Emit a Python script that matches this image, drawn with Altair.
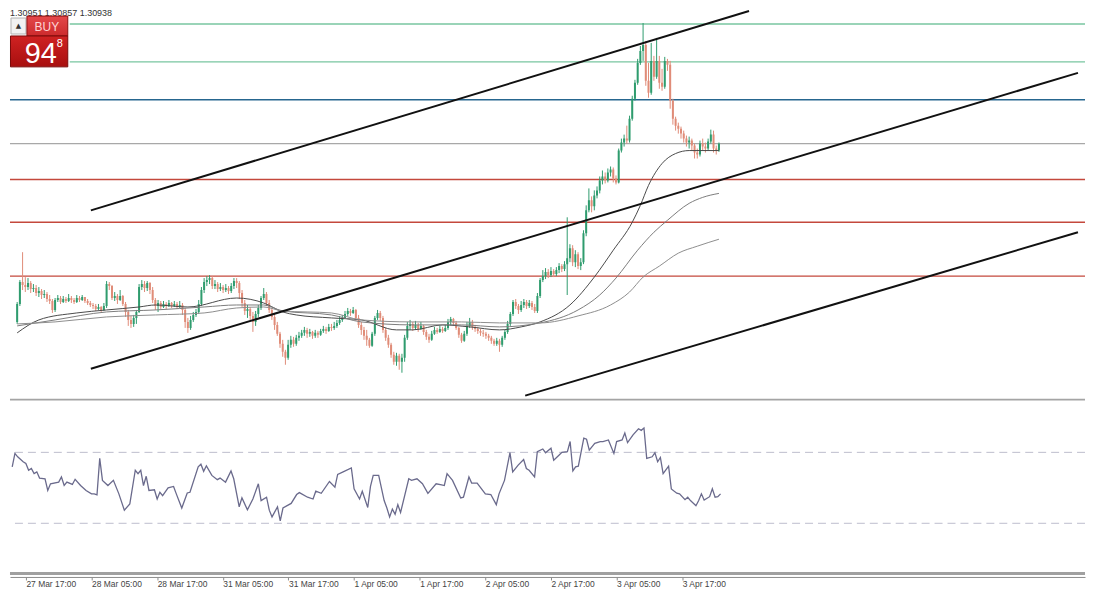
import json
import numpy as np
import pandas as pd
import altair as alt

# ---------------- data ----------------
tick_bars = [8, 32, 56, 80, 104, 128, 152, 176, 200, 224, 248]
tick_labels = ["27 Mar 17:00", "28 Mar 05:00", "28 Mar 17:00", "31 Mar 05:00",
               "31 Mar 17:00", "1 Apr 05:00", "1 Apr 17:00", "2 Apr 05:00",
               "2 Apr 17:00", "3 Apr 05:00", "3 Apr 17:00"]

first_open = 1.2939
close = [
    1.2932, 1.2922, 1.2915, 1.2933, 1.2955, 1.2952, 1.2950, 1.2954, 1.2948, 1.2949,
    1.2944, 1.2946, 1.2942, 1.2943, 1.2938, 1.2936, 1.2927, 1.2937, 1.2939, 1.2935,
    1.2938, 1.2936, 1.2939, 1.2937, 1.2935, 1.2939, 1.2937, 1.2940, 1.2936, 1.2934,
    1.2932, 1.2931, 1.2928, 1.2930, 1.2927, 1.2931, 1.2953, 1.2951, 1.2939, 1.2941,
    1.2937, 1.2941, 1.2933, 1.2925, 1.2917, 1.2913, 1.2919, 1.2925, 1.2950, 1.2953,
    1.2949, 1.2954, 1.2947, 1.2937, 1.2931, 1.2934, 1.2930, 1.2933, 1.2931, 1.2934,
    1.2931, 1.2933, 1.2930, 1.2932, 1.2927, 1.2915, 1.2909, 1.2917, 1.2922, 1.2925,
    1.2933, 1.2947, 1.2955, 1.2957, 1.2959, 1.2951, 1.2953, 1.2948, 1.2950, 1.2947,
    1.2949, 1.2946, 1.2951, 1.2956, 1.2954, 1.2944, 1.2934, 1.2926, 1.2928, 1.2921,
    1.2915, 1.2923, 1.2929, 1.2939, 1.2943, 1.2934, 1.2927, 1.2920, 1.2912, 1.2903,
    1.2893, 1.2885, 1.2879, 1.2892, 1.2897, 1.2893, 1.2899, 1.2901, 1.2904, 1.2907,
    1.2903, 1.2905, 1.2901, 1.2904, 1.2902, 1.2906, 1.2908, 1.2906, 1.2910, 1.2909,
    1.2911, 1.2914, 1.2917, 1.2919, 1.2923, 1.2926, 1.2924, 1.2927, 1.2919, 1.2912,
    1.2907, 1.2901, 1.2897, 1.2891, 1.2903, 1.2919, 1.2924, 1.2919, 1.2907, 1.2899,
    1.2892, 1.2882, 1.2875, 1.2881, 1.2875, 1.2879, 1.2899, 1.2911, 1.2913, 1.2909,
    1.2912, 1.2908, 1.2911, 1.2905, 1.2900, 1.2897, 1.2903, 1.2907, 1.2905, 1.2908,
    1.2906, 1.2909, 1.2915, 1.2918, 1.2914, 1.2909, 1.2902, 1.2896, 1.2903, 1.2911,
    1.2915, 1.2910, 1.2908, 1.2906, 1.2904, 1.2903, 1.2901, 1.2899, 1.2896, 1.2893,
    1.2896, 1.2892, 1.2899, 1.2905, 1.2913, 1.2923, 1.2935, 1.2931, 1.2927, 1.2932,
    1.2935, 1.2931, 1.2934, 1.2930, 1.2926, 1.2941, 1.2957, 1.2961, 1.2965, 1.2962,
    1.2966, 1.2963, 1.2967, 1.2971, 1.2968, 1.2973, 1.2979, 1.2989, 1.2975, 1.2983,
    1.2971, 1.2975, 1.3004, 1.3027, 1.3037, 1.3031, 1.3042, 1.3047, 1.3057, 1.3061,
    1.3057, 1.3065, 1.3068, 1.3059, 1.3055, 1.3087, 1.3095, 1.3099, 1.3097, 1.3119,
    1.3139, 1.3155, 1.3175, 1.3187, 1.3193, 1.3157, 1.3145, 1.3177, 1.3161, 1.3177,
    1.3155, 1.3151, 1.3177, 1.3173, 1.3137, 1.3119, 1.3112, 1.3109, 1.3104, 1.3099,
    1.3095, 1.3097, 1.3092, 1.3085, 1.3083, 1.3094, 1.3091, 1.3089, 1.3096, 1.3103,
    1.3089, 1.3087, 1.30938,
]
high = [
    1.2942, 1.2934, 1.2927, 1.2935, 1.2957, 1.2985, 1.2960, 1.2959, 1.2956, 1.2953,
    1.2952, 1.2950, 1.2948, 1.2947, 1.2945, 1.2942, 1.2938, 1.2939, 1.2942, 1.2941,
    1.2941, 1.2940, 1.2943, 1.2941, 1.2939, 1.2942, 1.2941, 1.2942, 1.2940, 1.2938,
    1.2936, 1.2934, 1.2933, 1.2933, 1.2931, 1.2934, 1.2956, 1.2955, 1.2952, 1.2945,
    1.2943, 1.2947, 1.2942, 1.2935, 1.2927, 1.2921, 1.2922, 1.2927, 1.2953, 1.2957,
    1.2956, 1.2956, 1.2955, 1.2950, 1.2939, 1.2937, 1.2936, 1.2936, 1.2935, 1.2937,
    1.2935, 1.2936, 1.2935, 1.2936, 1.2934, 1.2929, 1.2919, 1.2921, 1.2925, 1.2928,
    1.2937, 1.2950, 1.2959, 1.2961, 1.2962, 1.2961, 1.2957, 1.2955, 1.2954, 1.2952,
    1.2953, 1.2951, 1.2954, 1.2959, 1.2959, 1.2956, 1.2947, 1.2937, 1.2932, 1.2930,
    1.2925, 1.2926, 1.2932, 1.2941, 1.2949, 1.2945, 1.2937, 1.2929, 1.2923, 1.2915,
    1.2905, 1.2897, 1.2887, 1.2897, 1.2901, 1.2900, 1.2902, 1.2905, 1.2907, 1.2910,
    1.2909, 1.2908, 1.2906, 1.2907, 1.2906, 1.2908, 1.2911, 1.2910, 1.2913, 1.2913,
    1.2915, 1.2917, 1.2921, 1.2922, 1.2926, 1.2929, 1.2928, 1.2930, 1.2928, 1.2922,
    1.2915, 1.2910, 1.2907, 1.2899, 1.2905, 1.2921, 1.2927, 1.2926, 1.2921, 1.2909,
    1.2902, 1.2894, 1.2885, 1.2884, 1.2883, 1.2883, 1.2902, 1.2915, 1.2917, 1.2915,
    1.2916, 1.2914, 1.2915, 1.2912, 1.2907, 1.2903, 1.2906, 1.2910, 1.2909, 1.2911,
    1.2910, 1.2912, 1.2918, 1.2920, 1.2919, 1.2916, 1.2910, 1.2904, 1.2906, 1.2915,
    1.2919, 1.2917, 1.2912, 1.2910, 1.2908, 1.2907, 1.2905, 1.2903, 1.2901, 1.2898,
    1.2899, 1.2898, 1.2901, 1.2907, 1.2916, 1.2925, 1.2937, 1.2938, 1.2933, 1.2936,
    1.2938, 1.2937, 1.2937, 1.2936, 1.2933, 1.2944, 1.2959, 1.2967, 1.2969, 1.2968,
    1.2970, 1.2968, 1.2970, 1.2974, 1.2973, 1.2976, 1.3020, 1.2993, 1.2992, 1.2987,
    1.2985, 1.2979, 1.3007, 1.3032, 1.3049, 1.3041, 1.3047, 1.3051, 1.3061, 1.3067,
    1.3065, 1.3069, 1.3071, 1.3070, 1.3062, 1.3089, 1.3099, 1.3103, 1.3112, 1.3122,
    1.3142, 1.3158, 1.3179, 1.3192, 1.3215, 1.3197, 1.3175, 1.3195, 1.3182, 1.3200,
    1.3182, 1.3169, 1.3181, 1.3179, 1.3177, 1.3139, 1.3121, 1.3115, 1.3111, 1.3107,
    1.3102, 1.3101, 1.3099, 1.3094, 1.3089, 1.3097, 1.3099, 1.3095, 1.3099, 1.3108,
    1.3107, 1.3092, 1.30951,
]
low = [
    1.2929, 1.2919, 1.2911, 1.2913, 1.2931, 1.2947, 1.2945, 1.2947, 1.2944, 1.2945,
    1.2941, 1.2940, 1.2938, 1.2939, 1.2935, 1.2933, 1.2924, 1.2925, 1.2935, 1.2933,
    1.2934, 1.2934, 1.2935, 1.2934, 1.2933, 1.2934, 1.2935, 1.2936, 1.2934, 1.2932,
    1.2930, 1.2928, 1.2926, 1.2927, 1.2925, 1.2926, 1.2929, 1.2947, 1.2937, 1.2936,
    1.2933, 1.2936, 1.2931, 1.2920, 1.2911, 1.2909, 1.2910, 1.2913, 1.2924, 1.2947,
    1.2945, 1.2946, 1.2943, 1.2934, 1.2927, 1.2925, 1.2928, 1.2929, 1.2928, 1.2930,
    1.2929, 1.2930, 1.2928, 1.2929, 1.2922, 1.2909, 1.2904, 1.2907, 1.2915, 1.2920,
    1.2923, 1.2931, 1.2944, 1.2951, 1.2953, 1.2948, 1.2948, 1.2945, 1.2946, 1.2944,
    1.2945, 1.2943, 1.2944, 1.2948, 1.2949, 1.2938, 1.2930, 1.2922, 1.2919, 1.2917,
    1.2905, 1.2911, 1.2920, 1.2927, 1.2937, 1.2931, 1.2924, 1.2917, 1.2907, 1.2901,
    1.2889, 1.2880, 1.2872, 1.2877, 1.2889, 1.2890, 1.2891, 1.2896, 1.2899, 1.2901,
    1.2899, 1.2900, 1.2898, 1.2899, 1.2899, 1.2901, 1.2904, 1.2903, 1.2905, 1.2906,
    1.2907, 1.2909, 1.2912, 1.2915, 1.2918, 1.2921, 1.2921, 1.2923, 1.2916, 1.2909,
    1.2902, 1.2897, 1.2891, 1.2889, 1.2890, 1.2901, 1.2917, 1.2916, 1.2904, 1.2896,
    1.2889, 1.2879, 1.2872, 1.2871, 1.2867, 1.2864, 1.2875, 1.2897, 1.2907, 1.2906,
    1.2907, 1.2905, 1.2907, 1.2902, 1.2897, 1.2894, 1.2896, 1.2902, 1.2903, 1.2904,
    1.2904, 1.2905, 1.2907, 1.2912, 1.2911, 1.2907, 1.2899, 1.2894, 1.2895, 1.2901,
    1.2909, 1.2907, 1.2905, 1.2903, 1.2901, 1.2900, 1.2898, 1.2896, 1.2893, 1.2891,
    1.2891, 1.2885, 1.2890, 1.2897, 1.2903, 1.2911, 1.2921, 1.2928, 1.2923, 1.2925,
    1.2929, 1.2928, 1.2929, 1.2927, 1.2924, 1.2924, 1.2939, 1.2955, 1.2958, 1.2959,
    1.2960, 1.2960, 1.2961, 1.2964, 1.2965, 1.2966, 1.2942, 1.2975, 1.2971, 1.2970,
    1.2968, 1.2967, 1.2973, 1.3001, 1.3025, 1.3025, 1.3027, 1.3039, 1.3044, 1.3053,
    1.3054, 1.3055, 1.3061, 1.3055, 1.3053, 1.3054, 1.3085, 1.3091, 1.3094, 1.3095,
    1.3117, 1.3137, 1.3153, 1.3173, 1.3177, 1.3152, 1.3140, 1.3143, 1.3157, 1.3159,
    1.3149, 1.3147, 1.3149, 1.3167, 1.3129, 1.3113, 1.3107, 1.3104, 1.3099, 1.3095,
    1.3091, 1.3089, 1.3087, 1.3079, 1.3079, 1.3081, 1.3087, 1.3085, 1.3087, 1.3094,
    1.3085, 1.3083, 1.30857,
]

ma_fast_bar = [3, 11, 25, 36, 48, 54, 66, 84, 94, 101, 106, 119, 130, 143, 149,
               160, 170, 181, 189, 196, 207, 216, 223, 230, 233, 236, 241, 246, 251, 262]
ma_fast = [1.2904, 1.2917, 1.2924, 1.2927, 1.2930, 1.2932, 1.2930, 1.2939, 1.2934, 1.2925,
           1.2922, 1.2919, 1.2917, 1.2907, 1.2907, 1.2912, 1.2910, 1.2907, 1.2910, 1.2915,
           1.2932, 1.2960, 1.2987, 1.3015, 1.3032, 1.3052, 1.3074, 1.3084, 1.3087, 1.3087]
ma_mid_bar = [3, 17, 36, 54, 72, 84, 94, 101, 119, 130, 149, 167, 181, 196, 210, 218,
              224, 232, 238, 243, 251, 256, 262]
ma_mid = [1.2911, 1.2917, 1.2925, 1.2927, 1.2930, 1.2932, 1.2932, 1.2926, 1.2922, 1.2915,
          1.2912, 1.2912, 1.2910, 1.2914, 1.2927, 1.2942, 1.2959, 1.2987, 1.3005, 1.3017,
          1.3034, 1.3040, 1.3044]
ma_slow_bar = [3, 17, 36, 54, 72, 84, 94, 101, 119, 130, 149, 167, 181, 196, 210, 222,
               229, 234, 240, 247, 254, 262]
ma_slow = [1.2913, 1.2915, 1.2920, 1.2922, 1.2924, 1.2929, 1.2930, 1.2926, 1.2924, 1.2917,
           1.2915, 1.2915, 1.2914, 1.2914, 1.2921, 1.2932, 1.2945, 1.2960, 1.2971, 1.2984,
           1.2991, 1.2998]

rsi_bar = [3, 4, 5, 7, 8, 9, 10, 11, 12, 13, 15, 16, 17, 20, 21, 22, 23, 25,
           26, 28, 30, 32, 33, 34, 35, 36, 38, 40, 42, 44, 46, 48, 49, 50, 51, 52, 53, 55,
           56, 57, 58, 60, 62, 63, 65, 67, 68, 71, 72, 73, 74, 76, 78, 79, 81, 83, 84, 86,
           87, 89, 91, 93, 94, 96, 97, 98, 100, 101, 102, 105, 107, 108, 111, 113, 114, 116, 119, 121,
           122, 124, 127, 128, 130, 131, 133, 134, 135, 137, 139, 140, 141, 142, 143, 144, 145, 148, 149, 151,
           153, 155, 158, 160, 161, 162, 164, 167, 168, 170, 171, 173, 176, 178, 180, 181, 183, 185, 186, 188,
           190, 191, 192, 194, 195, 197, 198, 200, 201, 203, 204, 206, 207, 208, 209, 210, 212, 213, 214, 216,
           218, 219, 221, 223, 224, 226, 227, 228, 230, 232, 233, 234, 235, 237, 238, 239, 240, 241, 243, 244,
           246, 247, 249, 250, 251, 253, 254, 255, 256, 258, 259, 260, 261, 262]
rsi_val = [61.8, 69.4, 67.5, 64.7, 63.7, 59.9, 60.9, 58.0, 59.0, 55.5, 55.1, 48.5, 52.3, 53.2, 56.1, 51.3, 53.2, 51.9,
           54.8, 51.3, 48.5, 46.6, 46.6, 46.0, 66.6, 54.2, 51.3, 54.2, 46.6, 37.4, 40.9, 59.9, 58.0, 59.9, 51.3, 56.5, 48.5, 48.9,
           43.7, 47.5, 45.6, 50.0, 50.8, 46.6, 38.6, 47.1, 47.5, 61.8, 63.3, 59.3, 62.4, 57.0, 54.6, 55.5, 53.2, 59.5, 55.1, 39.3,
           44.3, 37.6, 43.7, 52.3, 42.8, 44.7, 37.4, 33.6, 39.3, 31.3, 38.6, 41.2, 46.2, 47.3, 44.7, 43.7, 48.1, 46.9, 53.6, 50.4,
           57.6, 59.0, 61.2, 49.4, 43.7, 48.1, 38.9, 50.8, 57.0, 57.0, 42.8, 38.6, 33.6, 38.0, 35.1, 40.5, 36.1, 55.1, 54.2, 55.1,
           52.3, 46.9, 52.3, 51.7, 51.3, 58.0, 54.2, 44.3, 44.7, 56.1, 52.7, 52.7, 46.6, 46.2, 40.5, 46.6, 54.2, 69.8, 59.0, 62.8,
           66.0, 60.9, 59.9, 56.1, 70.4, 71.9, 69.8, 72.3, 65.6, 68.5, 70.0, 70.4, 76.1, 59.5, 61.8, 62.2, 78.0, 77.4, 71.3, 75.1,
           76.1, 76.1, 77.0, 69.4, 76.1, 77.0, 80.9, 75.5, 79.9, 83.3, 82.4, 83.7, 66.6, 67.5, 69.8, 64.7, 67.1, 58.0, 62.2, 49.4,
           47.0, 46.6, 43.3, 44.7, 42.8, 39.9, 42.8, 46.6, 43.1, 45.0, 49.4, 44.7, 45.0, 46.6]
rsi_levels = [70, 30]

level_price = [1.3214, 1.3176, 1.3138, 1.3094, 1.3058, 1.3015, 1.2961]
level_kind = ["green", "green", "blue", "bid", "red", "red", "red"]

channel_name = ["upper", "upper", "middle", "middle", "lower", "lower"]
channel_bar = [30.2, 273.1, 30.2, 394.5, 190.5, 394.5]
channel_price = [1.3027, 1.3227, 1.2868, 1.3165, 1.2841, 1.3005]

ohlc_text = "1.30951 1.30857 1.30938"
buy_big = "94"
buy_pip = "8"

# ---------------- frames ----------------
candles = pd.DataFrame({"bar": np.arange(len(close)), "close": close,
                        "high": high, "low": low})
candles["open"] = [first_open] + close[:-1]
candles["high"] = candles[["high", "open", "close"]].max(axis=1)
candles["low"] = candles[["low", "open", "close"]].min(axis=1)
candles["dir"] = np.where(candles["close"] >= candles["open"], "up", "down")

ma = pd.concat([
    pd.DataFrame({"bar": ma_fast_bar, "price": ma_fast, "ma": "fast"}),
    pd.DataFrame({"bar": ma_mid_bar, "price": ma_mid, "ma": "mid"}),
    pd.DataFrame({"bar": ma_slow_bar, "price": ma_slow, "ma": "slow"}),
])
levels = pd.DataFrame({"price": level_price, "kind": level_kind})
channels = pd.DataFrame({"name": channel_name, "bar": channel_bar, "price": channel_price})
rsi = pd.DataFrame({"bar": rsi_bar, "rsi": rsi_val})
one = pd.DataFrame({"t": [ohlc_text]})

W = 1079
H_MAIN = 391
H_RSI = 177
X_MIN = 2.19
xs = alt.Scale(domain=[X_MIN, 395.26], nice=False, zero=False)
ys = alt.Scale(domain=[1.2838, 1.3229], nice=False, zero=False)
rs = alt.Scale(domain=[0.86, 100.29], nice=False, zero=False)
FONT = "Liberation Sans"

# ---------------- main panel ----------------
lv = alt.Chart(levels).mark_rule(strokeWidth=1.4).encode(
    y=alt.Y("price:Q", scale=ys, axis=None),
    color=alt.Color("kind:N", legend=None,
                    scale=alt.Scale(domain=["green", "blue", "bid", "red"],
                                    range=["#78c6a0", "#26668f", "#a8a8a8", "#c4483c"])))

cscale = alt.Scale(domain=["up", "down"], range=["#2f9c6e", "#e08c78"])
visible = alt.datum.bar >= 3
wick = alt.Chart(candles).transform_filter(visible).mark_rule(clip=True, strokeWidth=1).encode(
    x=alt.X("bar:Q", scale=xs, axis=None),
    y=alt.Y("low:Q", scale=ys, axis=None), y2="high:Q",
    color=alt.Color("dir:N", scale=cscale, legend=None))
body = alt.Chart(candles).transform_filter(visible).mark_bar(clip=True, size=2).encode(
    x=alt.X("bar:Q", scale=xs, axis=None),
    y=alt.Y("open:Q", scale=ys, axis=None), y2="close:Q",
    color=alt.Color("dir:N", scale=cscale, legend=None))

mal = alt.Chart(ma).mark_line(clip=True, strokeWidth=1, interpolate="monotone").encode(
    x=alt.X("bar:Q", scale=xs, axis=None),
    y=alt.Y("price:Q", scale=ys, axis=None),
    detail="ma:N",
    color=alt.Color("ma:N", legend=None,
                    scale=alt.Scale(domain=["fast", "mid", "slow"],
                                    range=["#4a4a4a", "#7c7c7c", "#8e8e8e"])))

ch = alt.Chart(channels).mark_line(clip=True, strokeWidth=2, color="#111111").encode(
    x=alt.X("bar:Q", scale=xs, axis=None),
    y=alt.Y("price:Q", scale=ys, axis=None),
    detail="name:N")

txt = alt.Chart(one).mark_text(align="left", baseline="top", font=FONT,
                               fontSize=9, color="#333333").encode(
    x=alt.value(0), y=alt.value(0), text="t:N")

panel_bg = alt.Chart(one).mark_rect(fill="white").encode(
    x=alt.value(0), x2=alt.value(60), y=alt.value(12), y2=alt.value(60))
arrow_btn = alt.Chart(one).mark_rect(fill="#f2f2f2", stroke="#b4b4b4", strokeWidth=1).encode(
    x=alt.value(1), x2=alt.value(16), y=alt.value(9), y2=alt.value(25))
arrow = alt.Chart(one).mark_text(text="▲", font="DejaVu Sans", fontSize=7, color="#333333",
                                 baseline="middle").encode(x=alt.value(8.5), y=alt.value(17))
buy_top = alt.Chart(one).mark_rect(
    fill=alt.LinearGradient(gradient="linear", x1=0, x2=0, y1=0, y2=1,
                            stops=[alt.GradientStop(color="#e4484a", offset=0),
                                   alt.GradientStop(color="#cc2a2c", offset=1)]),
    stroke="#8a1010", strokeWidth=1).encode(
    x=alt.value(17), x2=alt.value(58), y=alt.value(7), y2=alt.value(27))
buy_low = alt.Chart(one).mark_rect(
    fill=alt.LinearGradient(gradient="linear", x1=0, x2=0, y1=0, y2=1,
                            stops=[alt.GradientStop(color="#cf2222", offset=0),
                                   alt.GradientStop(color="#a80f0f", offset=1)]),
    stroke="#7a0a0a", strokeWidth=1).encode(
    x=alt.value(0.5), x2=alt.value(58), y=alt.value(27), y2=alt.value(58))
buy_lbl = alt.Chart(one).mark_text(text="BUY", font=FONT, fontSize=12, color="#ffd6d6",
                                   baseline="middle").encode(x=alt.value(37), y=alt.value(18))
big = alt.Chart(one).mark_text(text=buy_big, font=FONT, fontSize=29, color="white",
                               baseline="middle").encode(x=alt.value(31), y=alt.value(45))
pip = alt.Chart(one).mark_text(text=buy_pip, font=FONT, fontSize=11, color="white",
                               baseline="middle").encode(x=alt.value(50), y=alt.value(35))

main = alt.layer(lv, wick, body, mal, ch, txt, panel_bg, arrow_btn, arrow,
                 buy_top, buy_low, buy_lbl, big, pip).resolve_scale(
    color="independent").properties(width=W, height=H_MAIN)

# ---------------- RSI panel ----------------
label_expr = "%s[indexof(%s, datum.value)]" % (json.dumps(tick_labels), json.dumps(tick_bars))
xaxis = alt.Axis(values=tick_bars, labelExpr=label_expr, grid=False, offset=2,
                 domainColor="#8c8c8c", domainWidth=1, tickColor="#8c8c8c",
                 tickSize=3, tickWidth=1, labelFont=FONT, labelFontSize=8.5,
                 labelColor="#444444", labelAlign="left", labelOffset=0,
                 labelPadding=0, labelOverlap=False, labelFlush=False)

rlv = alt.Chart(pd.DataFrame({"lvl": rsi_levels})).mark_rule(
    color="#bdbdcd", strokeWidth=1, strokeDash=[8, 5]).encode(
    y=alt.Y("lvl:Q", scale=rs, axis=None))
rline = alt.Chart(rsi).mark_line(clip=True, color="#6a6a8c", strokeWidth=1.3).encode(
    x=alt.X("bar:Q", scale=xs, axis=xaxis, title=""),
    y=alt.Y("rsi:Q", scale=rs, axis=None))
sep_top = alt.Chart(one).mark_rule(color="#a4a4a4", strokeWidth=2).encode(y=alt.value(1))
sep_bot = alt.Chart(one).mark_rule(color="#a0a0a0", strokeWidth=3).encode(y=alt.value(175.5))

rsi_panel = alt.layer(rlv, rline, sep_top, sep_bot).properties(width=W, height=H_RSI)

chart = alt.vconcat(main, rsi_panel, spacing=0, padding=0, bounds="flush").configure_view(
    strokeWidth=0)

chart.save("out.html", embed_options={"renderer": "svg", "actions": False})
